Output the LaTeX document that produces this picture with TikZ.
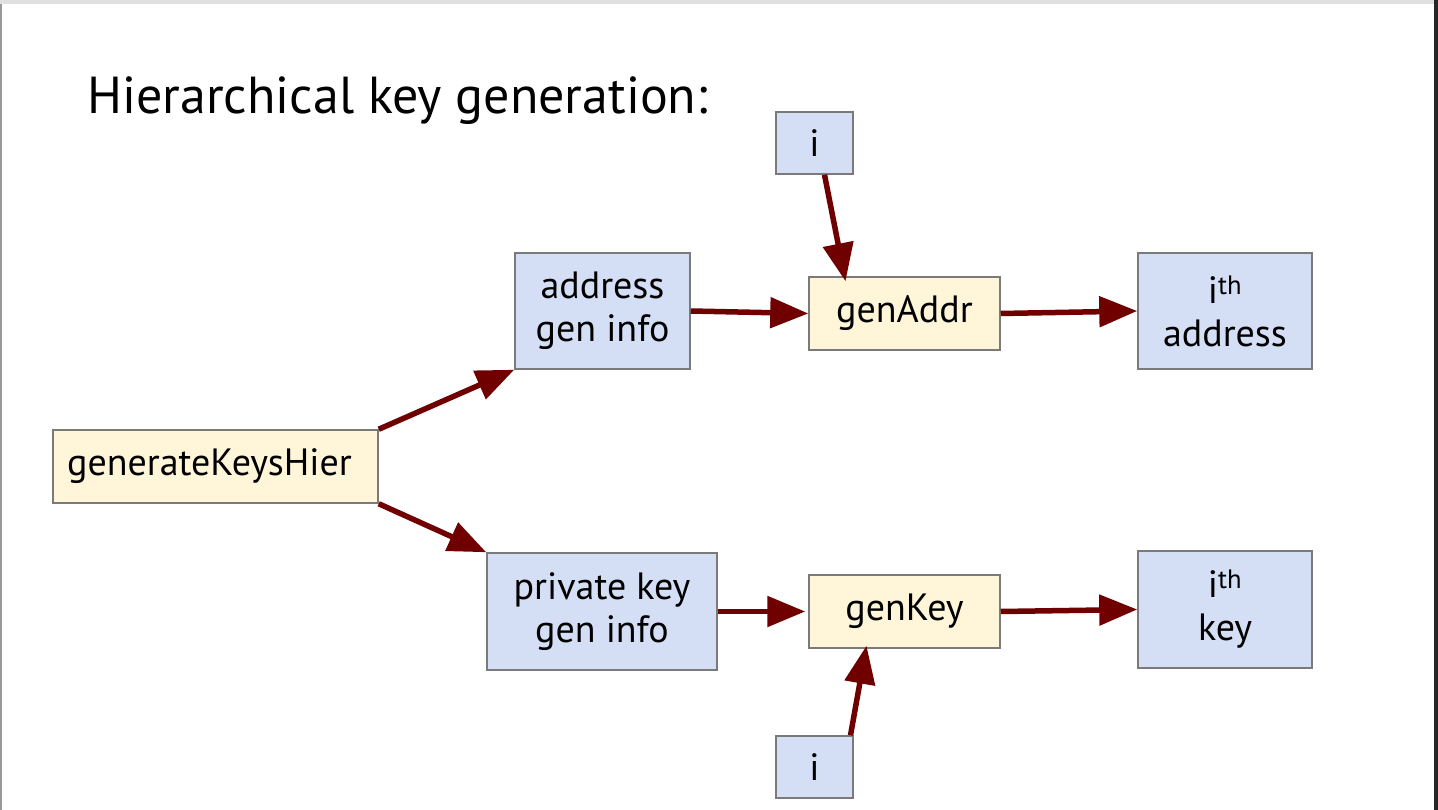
\documentclass[tikz,border=0pt]{standalone}
\usepackage{fontspec}
\setmainfont{PT Sans}
\usetikzlibrary{arrows.meta}
\definecolor{cream}{HTML}{FFF5D8}
\definecolor{paleblue}{HTML}{D4DEF5}
\definecolor{boxline}{HTML}{7A7A7A}
\definecolor{arrowred}{HTML}{700000}
\begin{document}
\begin{tikzpicture}[x=1pt,y=-1pt,
  box/.style={draw=boxline,line width=1.5pt,inner sep=0pt,align=center,font=\fontsize{38}{43}\selectfont},
  fbox/.style={box,fill=cream},
  dbox/.style={box,fill=paleblue},
  conn/.style={draw=arrowred,line width=5.5pt,-{Triangle[length=38pt,width=30pt]}}]
\useasboundingbox (0,0) rectangle (1438,810);
\fill[white] (0,0) rectangle (1438,810);
\fill[black!12] (0,0) rectangle (1438,4);
\fill[black!40] (0,4) rectangle (2,810);
\fill[black!85] (1434,0) rectangle (1438,810);
\node[anchor=west,font=\fontsize{52}{60}\selectfont] (title) at (84,101) {Hierarchical key generation:};
% nodes: corners in pixels
\node[fbox,minimum width=325pt,minimum height=73pt] (gen) at (215.5,466.5) {\hspace*{-12pt}generateKeysHier};
\node[dbox,minimum width=175pt,minimum height=116pt] (ainfo) at (602.5,311) {address\\gen info};
\node[fbox,minimum width=191pt,minimum height=73pt] (gaddr) at (904.5,313.5) {genAddr};
\node[dbox,minimum width=77pt,minimum height=62pt] (itop) at (814.5,143) {i};
\node[dbox,minimum width=174pt,minimum height=116pt] (iaddr) at (1225,311) {i\textsuperscript{th}\\address};
\node[dbox,minimum width=230pt,minimum height=117pt] (pinfo) at (602,611.5) {private key\\gen info};
\node[fbox,minimum width=191pt,minimum height=73pt] (gkey) at (904.5,611.5) {genKey};
\node[dbox,minimum width=77pt,minimum height=62pt] (ibot) at (814.5,767) {i};
\node[dbox,minimum width=174pt,minimum height=117pt] (ikey) at (1225,609.5) {i\textsuperscript{th}\\key};
% connectors
\draw[conn] (gen.north east) -- (ainfo.south west);
\draw[conn] (gen.south east) -- (pinfo.north west);
\draw[conn] (ainfo.east) -- (gaddr.west);
\draw[conn] (gaddr.east) -- (iaddr.west);
\draw[conn] ([xshift=10pt]itop.south) -- ([xshift=-59pt,yshift=-5pt]gaddr.north);
\draw[conn] (pinfo.east) -- ([xshift=-3pt]gkey.west);
\draw[conn] (gkey.east) -- (ikey.west);
\draw[conn] ([xshift=36pt]ibot.north) -- ([xshift=-38pt,yshift=3pt]gkey.south);
\end{tikzpicture}
\end{document}
